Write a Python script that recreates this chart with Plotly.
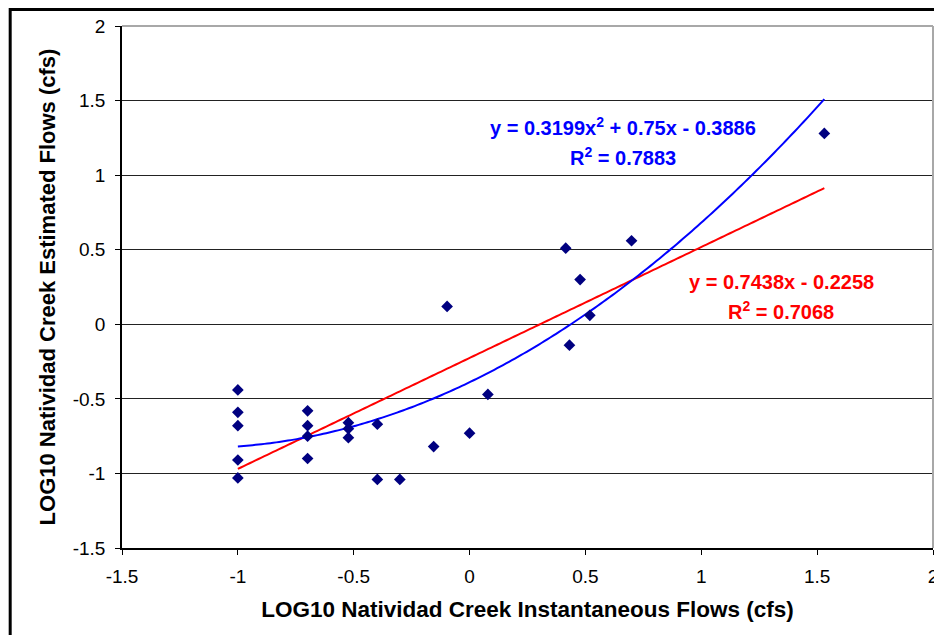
import numpy as np
import plotly.graph_objects as go

# Observed data (log10 flows)
x_inst = [-1.0, -1.0, -1.0, -1.0, -1.0,
          -0.699, -0.699, -0.699, -0.699,
          -0.523, -0.523, -0.523,
          -0.398, -0.398,
          -0.301, -0.155, -0.097, 0.0, 0.079,
          0.415, 0.431, 0.477, 0.519, 0.699, 1.531]
y_est = [-0.44, -0.59, -0.68, -0.91, -1.03,
         -0.58, -0.68, -0.75, -0.90,
         -0.66, -0.70, -0.76,
         -0.67, -1.04,
         -1.04, -0.82, 0.12, -0.73, -0.47,
         0.51, -0.14, 0.30, 0.06, 0.56, 1.28]

# Trend line coefficients (as labelled)
lin_coef = [0.7438, -0.2258]
poly_coef = [0.3199, 0.75, -0.3886]
lin_label = ["y = 0.7438x - 0.2258", "R<sup>2</sup> = 0.7068"]
poly_label = ["y = 0.3199x<sup>2</sup> + 0.75x - 0.3886", "R<sup>2</sup> = 0.7883"]

x_ticks = [-1.5, -1, -0.5, 0, 0.5, 1, 1.5, 2]
y_ticks = [-1.5, -1, -0.5, 0, 0.5, 1, 1.5, 2]

xs = np.linspace(min(x_inst), max(x_inst), 200)
y_lin = np.polyval(lin_coef, xs)
y_poly = np.polyval(poly_coef, xs)

FONT = "Liberation Sans, Arial, sans-serif"

fig = go.Figure()
fig.add_trace(go.Scatter(x=xs, y=y_lin, mode="lines",
                         line=dict(color="#ff0000", width=2, simplify=False), showlegend=False))
fig.add_trace(go.Scatter(x=xs, y=y_poly, mode="lines",
                         line=dict(color="#0000ff", width=2, simplify=False), showlegend=False))
fig.add_trace(go.Scatter(x=x_inst, y=y_est, mode="markers",
                         marker=dict(symbol="diamond", size=9, color="#000080"),
                         showlegend=False))

AFS = 20
ann = [
    dict(x=0.662, y=1.324, text=poly_label[0], color="#0000ff"),
    dict(x=0.662, y=1.123, text=poly_label[1], color="#0000ff"),
    dict(x=1.344, y=0.284, text=lin_label[0], color="#ff0000"),
    dict(x=1.344, y=0.094, text=lin_label[1], color="#ff0000"),
]
ann = [dict(x=a["x"], y=a["y"], xref="x", yref="y", showarrow=False,
            text="<b>" + a["text"] + "</b>",
            font=dict(family=FONT, size=AFS, color=a["color"])) for a in ann]

# page body has an 8px margin, so the figure starts at (8, 8) on screen
OFF = 8
W, H = 942 - OFF, 635 - OFF
L, R = 122 - OFF, W - (938 - OFF)
T, B = 26 - OFF, H - (548 - OFF)
pw, ph = W - L - R, H - T - B

def px_x(p):
    return (p - OFF - L) / pw

def px_y(p):
    return (H - B - (p - OFF)) / ph

shapes = [
    dict(type="line", xref="paper", yref="paper", x0=0, x1=1, y0=1, y1=1,
         line=dict(color="#a8a8a8", width=2)),
    dict(type="line", xref="paper", yref="paper", x0=1, x1=1, y0=0, y1=1,
         line=dict(color="#a8a8a8", width=2)),
    dict(type="rect", xref="paper", yref="paper",
         x0=px_x(9.5), x1=px_x(955), y0=px_y(650), y1=px_y(9.5),
         line=dict(color="#000000", width=3)),
]

fig.update_layout(
    width=W, height=H,
    margin=dict(l=L, r=R, t=T, b=B, pad=0),
    paper_bgcolor="white", plot_bgcolor="white",
    font=dict(family=FONT, color="#000000"),
    annotations=ann, shapes=shapes,
    xaxis=dict(range=[-1.5, 2], tickvals=x_ticks, ticktext=[f"{v:g}" for v in x_ticks],
               showgrid=False, zeroline=False, showline=True, linecolor="#000000",
               linewidth=1.5, ticks="outside", ticklen=5, tickcolor="#000000",
               tickfont=dict(size=19), ticklabelstandoff=5, ticklabeloverflow="allow",
               title=dict(text="<b>LOG10 Natividad Creek Instantaneous Flows (cfs)</b>",
                          font=dict(size=22.5), standoff=16)),
    yaxis=dict(range=[-1.5, 2], tickvals=y_ticks, ticktext=[f"{v:g}" for v in y_ticks],
               showgrid=True, gridcolor="#222222", gridwidth=1,
               zeroline=False, showline=True, linecolor="#000000",
               linewidth=1.5, ticks="outside", ticklen=5, tickcolor="#000000",
               tickfont=dict(size=19), ticklabelstandoff=6,
               title=dict(text="<b>LOG10 Natividad Creek Estimated Flows (cfs)</b>",
                          font=dict(size=22), standoff=11)),
)

fig.write_html("out.html")
